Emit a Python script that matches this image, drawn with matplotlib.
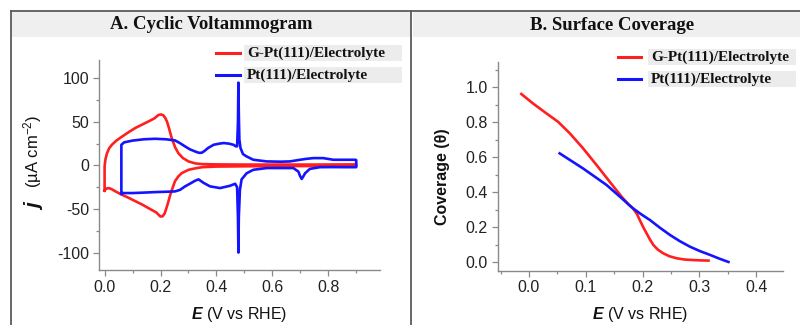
import matplotlib
matplotlib.use("Agg")
import matplotlib.pyplot as plt
from matplotlib.lines import Line2D
from matplotlib.patches import Rectangle
from matplotlib.ticker import MultipleLocator

plt.rcParams['mathtext.fontset'] = 'custom'
plt.rcParams['mathtext.rm'] = 'Liberation Sans'
plt.rcParams['mathtext.it'] = 'Liberation Sans:italic:bold'
plt.rcParams['mathtext.bf'] = 'Liberation Sans:bold'
plt.rcParams['font.family'] = ['Liberation Sans', 'DejaVu Sans']

# ---------------- data ----------------
series_names = ["G-Pt(111)/Electrolyte", "Pt(111)/Electrolyte"]
series_colors = ["#ff1f1f", "#1414ff"]

# Panel A: cyclic voltammogram, G-Pt(111) (anodic then cathodic)
cv_g_E = [0.0, 0.0, 0.003, 0.0086, 0.016, 0.026, 0.042, 0.062, 0.085, 0.11, 0.135, 0.157, 0.178,
          0.193, 0.202, 0.21, 0.217, 0.223, 0.231, 0.24, 0.252, 0.264, 0.28, 0.3, 0.325, 0.35,
          0.4, 0.5, 0.6, 0.75, 0.9,
          0.9, 0.75, 0.6, 0.5, 0.4, 0.35, 0.33, 0.3, 0.276, 0.264, 0.252, 0.244, 0.235, 0.225,
          0.215, 0.207, 0.199, 0.185, 0.157, 0.135, 0.11, 0.085, 0.062, 0.04, 0.024, 0.014,
          0.007, 0.002, 0.0]
cv_g_j = [-29, -1, 7, 14, 19.5, 23.7, 28.5, 33, 38, 43, 47, 50.5, 54,
          58, 58.5, 57.5, 54.5, 50.5, 42, 31.4, 21, 14, 8.5, 4.6, 2.3, 1.5,
          1.2, 1.0, 1.0, 1.0, 1.2,
          -0.5, -0.7, -0.8, -1.0, -1.3, -2, -3, -5, -8.8, -12.5, -18, -25, -33.6, -45,
          -55, -58.5, -58.5, -54, -49, -45, -41, -37, -33.6, -30, -27, -26,
          -26.5, -28, -29]

# Panel A: cyclic voltammogram, Pt(111)
cv_p_E = [0.06, 0.06, 0.07, 0.1, 0.14, 0.181, 0.22, 0.252, 0.27, 0.288, 0.305, 0.324, 0.337,
          0.347, 0.357, 0.37, 0.39, 0.41, 0.426, 0.445, 0.461, 0.47, 0.474, 0.477, 0.4786, 0.480,
          0.482, 0.486, 0.495, 0.508, 0.532, 0.58, 0.63, 0.663, 0.68, 0.699, 0.72, 0.746, 0.782,
          0.818, 0.86, 0.898, 0.9,
          0.9, 0.86, 0.818, 0.77, 0.734, 0.717, 0.71, 0.705, 0.699, 0.693, 0.675, 0.63, 0.58,
          0.532, 0.508, 0.49, 0.484, 0.480, 0.4786, 0.477, 0.474, 0.467, 0.449, 0.413, 0.377,
          0.354, 0.336, 0.324, 0.305, 0.288, 0.27, 0.252, 0.22, 0.181, 0.14, 0.1, 0.062, 0.06]
cv_p_j = [-32.5, 23.7, 26.5, 28.5, 30, 30.6, 30, 28.7, 25.5, 21.8, 18.5, 16, 14.5,
          14.5, 16.5, 20, 23.7, 25, 25.7, 25, 23.7, 21.8, 22, 50, 95, 60,
          30, 20, 13, 10.3, 6.5, 4.6, 4.3, 4.6, 5.5, 6.5, 7.5, 8.4, 8.4,
          6.5, 6.5, 6.5, 6,
          -2, -2, -1.9, -2, -4, -9, -13, -15.5, -12, -7, -3, -3, -3,
          -5, -9, -16, -28, -60, -100, -60, -25, -21, -23.3, -26, -24,
          -20, -16, -17.5, -21, -24, -28, -29.8, -30.2, -30.6, -31.2, -31.7, -31.7, -32.5]

# Panel B: surface coverage
cov_g_E = [-0.0134, 0.007, 0.0307, 0.0512, 0.0718, 0.0952, 0.119, 0.142, 0.163, 0.175, 0.183,
           0.19, 0.195, 0.201, 0.207, 0.213, 0.219, 0.227, 0.236, 0.247, 0.26, 0.274, 0.289,
           0.303, 0.316]
cov_g_t = [0.962, 0.908, 0.851, 0.803, 0.737, 0.651, 0.555, 0.46, 0.374, 0.33, 0.307,
           0.275, 0.24, 0.2, 0.164, 0.128, 0.097, 0.07, 0.05, 0.033, 0.021, 0.014, 0.011,
           0.009, 0.008]
cov_p_E = [0.054, 0.075, 0.095, 0.116, 0.1365, 0.16, 0.183, 0.198, 0.213, 0.23, 0.248, 0.265,
           0.283, 0.301, 0.319, 0.335, 0.351]
cov_p_t = [0.622, 0.578, 0.536, 0.488, 0.441, 0.374, 0.307, 0.272, 0.24, 0.197, 0.155, 0.12,
           0.088, 0.062, 0.04, 0.019, 0.0]

panel_titles = ["A. Cyclic Voltammogram", "B. Surface Coverage"]

# ---------------- figure ----------------
W, H = 800, 325
fig = plt.figure(figsize=(W / 100, H / 100), dpi=100)


def fx(px):
    return px / W


def fy(py):
    return 1 - py / H


# frame and title bands
band = "#efefef"
fig.patches.append(Rectangle((fx(12), fy(37)), fx(398), (25) / H, transform=fig.transFigure,
                             facecolor=band, edgecolor='none', zorder=0))
fig.patches.append(Rectangle((fx(413), fy(37)), fx(387), (25) / H, transform=fig.transFigure,
                             facecolor=band, edgecolor='none', zorder=0))
frame_c = "#5a5a5a"
fig.lines.append(Line2D([fx(11), fx(800)], [fy(11), fy(11)], transform=fig.transFigure,
                        color=frame_c, lw=1.3))
fig.lines.append(Line2D([fx(11), fx(11)], [fy(11), fy(325)], transform=fig.transFigure,
                        color=frame_c, lw=1.3))
fig.lines.append(Line2D([fx(411), fx(411)], [fy(11), fy(325)], transform=fig.transFigure,
                        color=frame_c, lw=1.3))

fig.text(fx(211), fy(24.5), panel_titles[0], family='Liberation Serif', weight='bold',
         fontsize=13.5, ha='center', va='center', color='#111')
fig.text(fx(612), fy(25), panel_titles[1], family='Liberation Serif', weight='bold',
         fontsize=13.5, ha='center', va='center', color='#111')

axA = fig.add_axes([fx(99), fy(270), fx(281), 210 / H])
axB = fig.add_axes([fx(497.7), fy(270.7), fx(285.3), 209 / H])

lw = 1.9
axA.plot(cv_g_E, cv_g_j, color=series_colors[0], lw=lw, zorder=3, solid_joinstyle='round')
axA.plot(cv_p_E, cv_p_j, color=series_colors[1], lw=lw, zorder=4, solid_joinstyle='round')
axB.plot(cov_g_E, cov_g_t, color=series_colors[0], lw=lw, zorder=3, solid_joinstyle='round')
axB.plot(cov_p_E, cov_p_t, color=series_colors[1], lw=lw, zorder=4, solid_joinstyle='round')

axA.set_xlim(-0.02, 0.985)
axA.set_ylim(-120, 121)
axA.xaxis.set_major_locator(MultipleLocator(0.2))
axA.xaxis.set_minor_locator(MultipleLocator(0.1))
axA.yaxis.set_major_locator(MultipleLocator(50))
axA.yaxis.set_minor_locator(MultipleLocator(25))

axB.set_xlim(-0.055, 0.447)
axB.set_ylim(-0.05, 1.147)
axB.xaxis.set_major_locator(MultipleLocator(0.1))
axB.xaxis.set_minor_locator(MultipleLocator(0.05))
axB.yaxis.set_major_locator(MultipleLocator(0.2))
axB.yaxis.set_minor_locator(MultipleLocator(0.1))

spine_c = "#8a8a8a"
for ax in (axA, axB):
    ax.set_facecolor('none')
    for s in ('top', 'right'):
        ax.spines[s].set_visible(False)
    for s in ('left', 'bottom'):
        ax.spines[s].set_color(spine_c)
        ax.spines[s].set_linewidth(1.0)
    ax.tick_params(which='major', direction='out', length=4, width=0.9, color=spine_c,
                   labelsize=11.5, labelcolor='#222', pad=3)
    ax.tick_params(which='minor', direction='out', length=2.5, width=0.9, color=spine_c)

axA.xaxis.set_major_formatter(plt.FuncFormatter(lambda v, p: f"{v:.1f}"))
axB.xaxis.set_major_formatter(plt.FuncFormatter(lambda v, p: f"{v:.1f}"))
axB.yaxis.set_major_formatter(plt.FuncFormatter(lambda v, p: f"{v:.1f}"))
axA.yaxis.set_major_formatter(plt.FuncFormatter(lambda v, p: f"{v:.0f}"))

# axis labels
fig.text(fx(239.5), fy(315), "$E$ (V vs RHE)", fontsize=11.5, ha='center', va='center',
         color='#111')
fig.text(fx(640), fy(314), "$E$ (V vs RHE)", fontsize=11.5, ha='center', va='center',
         color='#111')
fig.text(fx(36), fy(207), "j", fontsize=15, style='italic', weight='bold', rotation=90,
         ha='center', va='center', color='#111')
fig.text(fx(33), fy(151), "(µA cm$^{-2}$)", fontsize=12, rotation=90, ha='center',
         va='center', color='#111')
fig.text(fx(442), fy(177), "Coverage (θ)", fontsize=11.5, weight='bold', rotation=90,
         ha='center', va='center', color='#111')

# legends (manual, to match placement)
leg_bg = "#ececec"


def legend(x_line0, x_line1, x_text, x_bg1, ys):
    for i, y in enumerate(ys):
        fig.patches.append(Rectangle((fx(x_text - 3), fy(y + 8)), fx(x_bg1 - x_text + 3), 16 / H,
                                     transform=fig.transFigure, facecolor=leg_bg,
                                     edgecolor='none', zorder=5))
        fig.lines.append(Line2D([fx(x_line0), fx(x_line1)], [fy(y), fy(y)],
                                transform=fig.transFigure, color=series_colors[i], lw=2.2,
                                zorder=6))
        fig.text(fx(x_text), fy(y), series_names[i], family='Liberation Serif', weight='bold',
                 fontsize=11, ha='left', va='center', color='#111', zorder=7)


legend(216, 240, 247, 402, [53, 75])
legend(618, 641, 651, 796, [57, 79])

fig.savefig("out.png", dpi=100)
